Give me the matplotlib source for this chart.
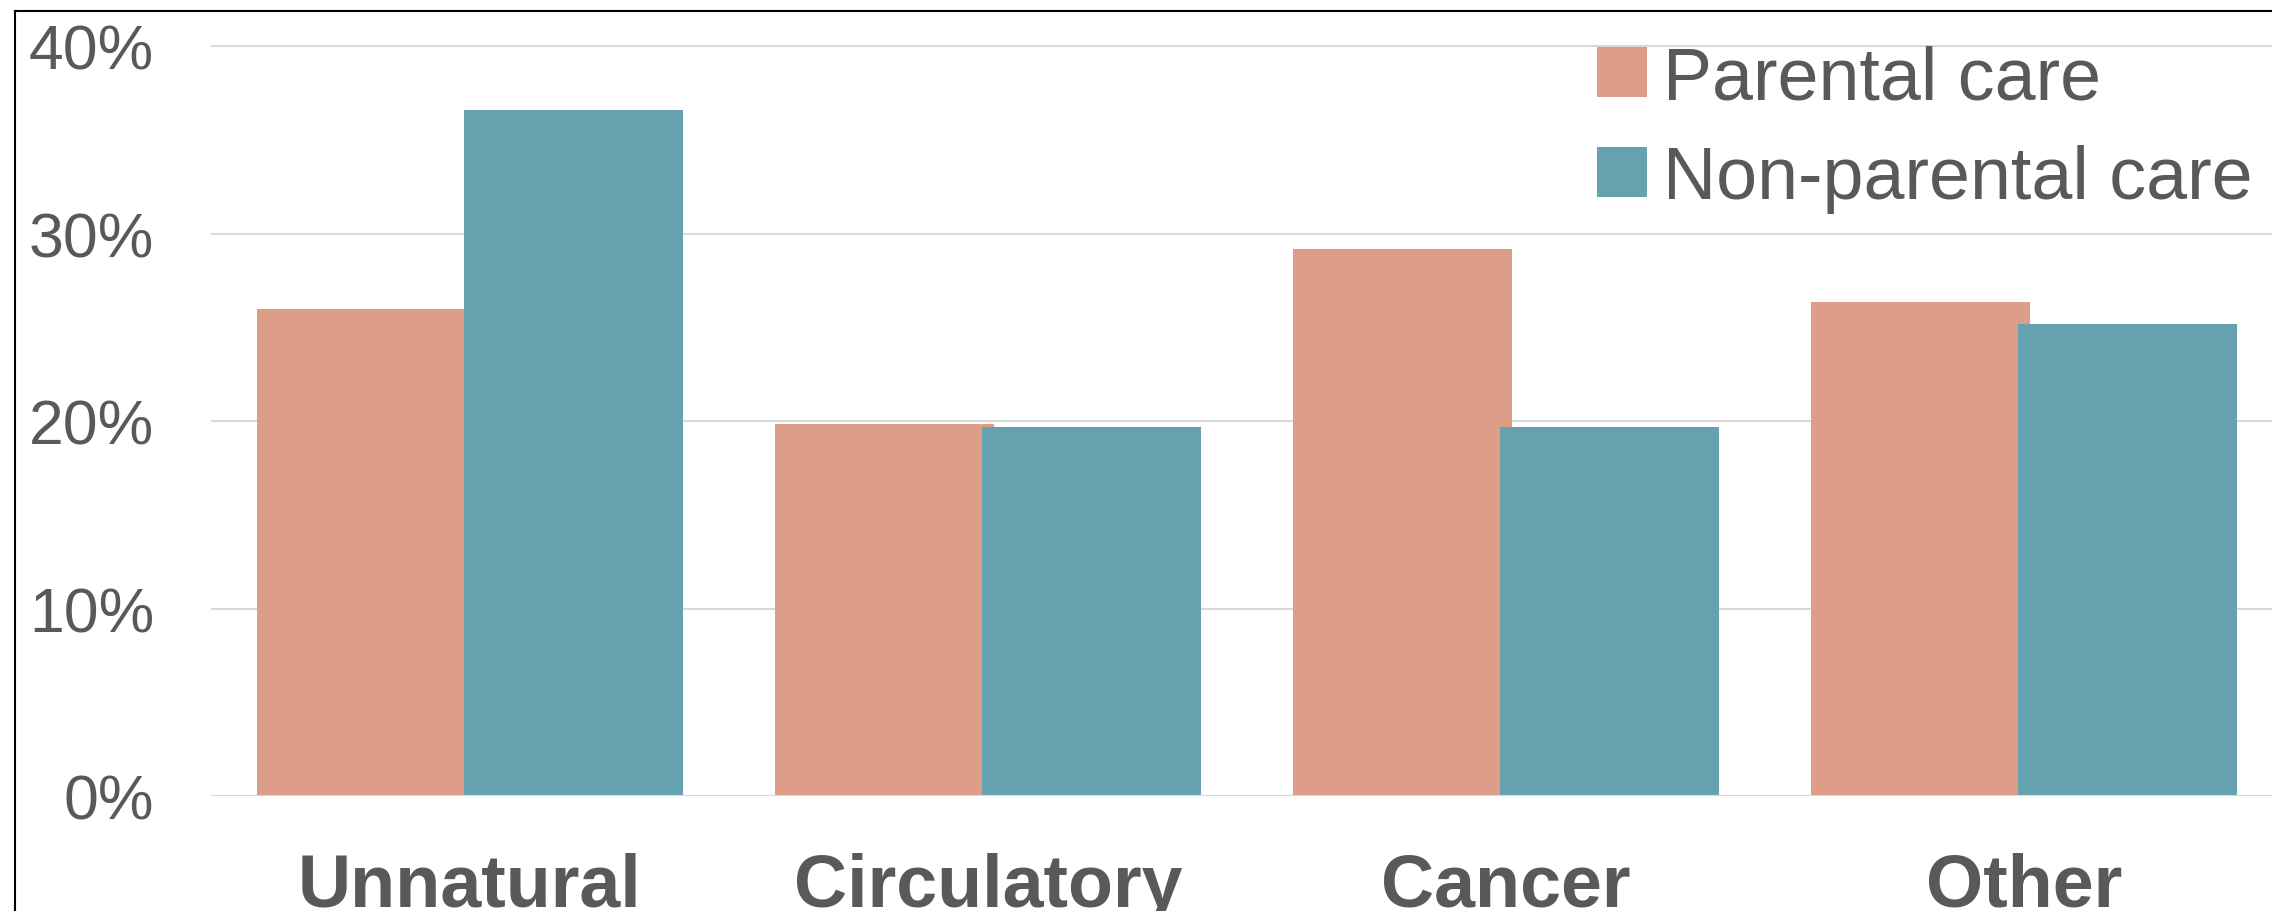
import matplotlib.pyplot as plt
from matplotlib.lines import Line2D
from matplotlib.patches import Patch
import numpy as np

# Datos: porcentaje por causa y tipo de cuidado
categorias = ["Unnatural", "Circulatory", "Cancer", "Other"]
parental = [26.0, 19.85, 29.15, 26.35]
no_parental = [36.6, 19.7, 19.7, 25.2]
series = ["Parental care", "Non-parental care"]
yticks = [0, 10, 20, 30, 40]

COLOR_P = "#DE9D86"
COLOR_NP = "#66A1AF"
TEXTO = "#595959"
GRID = "#D9D9D9"

W, H, DPI = 2272, 912, 100


def main():
    plt.rcParams["font.family"] = ["Liberation Sans", "DejaVu Sans"]

    fig = plt.figure(figsize=(W / DPI, H / DPI), dpi=DPI)
    fig.patch.set_facecolor("white")

    # el eje se extiende un poco más allá del borde derecho
    izq, der = 211, 2283
    base, y_max = 797, 41
    px_por_unidad = (797 - 47) / 40
    ax = fig.add_axes([izq / W, (H - base) / H, (der - izq) / W,
                       y_max * px_por_unidad / H])

    x = np.arange(len(categorias))
    ancho = 0.423
    desp = 0.2
    ax.bar(x - desp, parental, ancho, color=COLOR_P, zorder=2, label=series[0])
    ax.bar(x + desp, no_parental, ancho, color=COLOR_NP, zorder=2.1, label=series[1])

    ax.set_xlim(-0.5, 3.5)
    ax.set_ylim(0, y_max)

    ax.set_yticks(yticks)
    ax.set_yticklabels([f"{v}%" for v in yticks])
    ax.yaxis.grid(True, color=GRID, linewidth=1.5, zorder=0)
    ax.set_axisbelow(True)
    ax.axhline(0, color=GRID, linewidth=1.5, zorder=3)

    ax.set_xticks(x)
    ax.set_xticklabels(categorias, fontweight="bold")

    ax.tick_params(axis="y", length=0, pad=41, labelsize=45, labelcolor=TEXTO)
    ax.tick_params(axis="x", length=0, pad=40, labelsize=53, labelcolor=TEXTO)

    for s in ax.spines.values():
        s.set_visible(False)

    handles = [Patch(facecolor=COLOR_P, edgecolor="none"),
               Patch(facecolor=COLOR_NP, edgecolor="none")]
    ax.legend(handles, series, loc="upper left",
              bbox_to_anchor=(1597 / W, 1 - 45 / H),
              bbox_transform=fig.transFigure, frameon=False,
              fontsize=53, labelcolor=TEXTO, handlelength=0.68,
              handleheight=0.68, handletextpad=0.22, labelspacing=0.42,
              borderpad=0, borderaxespad=0)

    # marco negro (solo visibles los bordes superior e izquierdo)
    xl = 15 / W
    yt = 1 - 12 / H
    fig.add_artist(Line2D([xl, xl], [0, yt], color="black", linewidth=1.5))
    fig.add_artist(Line2D([xl, 1], [yt, yt], color="black", linewidth=1.5))

    fig.savefig("out.png", dpi=DPI, facecolor="white")


if __name__ == "__main__":
    main()
